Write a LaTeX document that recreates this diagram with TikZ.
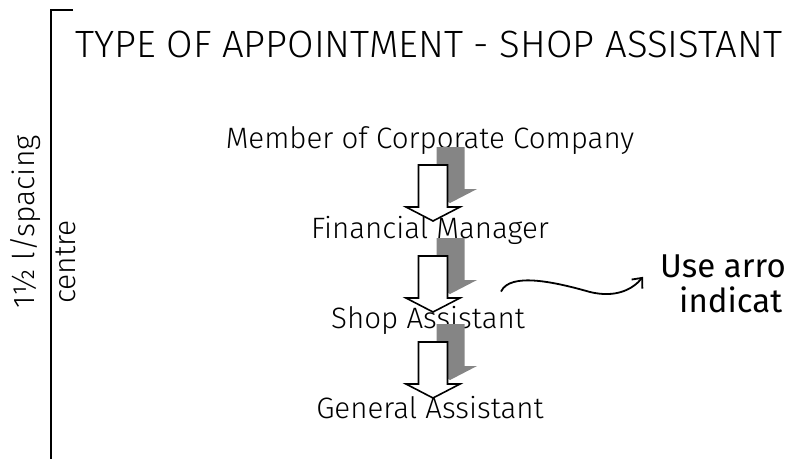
\documentclass[tikz,border=0pt]{standalone}
\usepackage{fontspec}
\setmainfont{Fira Sans Light}
\newfontfamily\notefont{Fira Sans}
\usetikzlibrary{calc,positioning,arrows.meta}

\tikzset{
  stage/.style={inner sep=0pt, font=\fontsize{29.5}{32}\selectfont},
  side/.style={inner sep=0pt, rotate=90, font=\fontsize{30}{32}\selectfont},
  note/.style={inner sep=0pt, font=\fontsize{33}{35}\notefont},
  downarrow/.pic={
    % shadow first, then the white arrow on top
    \fill[black!48] (3.5,-18) -- (31.5,-18) -- (31.5,24) -- (44,24) -- (17,38)
      -- (-10,24) -- (3.5,24) -- cycle;
    \draw[line width=1.6pt, fill=white, line join=miter]
      (-14.5,0) -- (14.5,0) -- (14.5,42) -- (27,42) -- (0,56) -- (-27,42)
      -- (-14.5,42) -- cycle;
  }
}

\begin{document}
\begin{tikzpicture}[x=1pt,y=-1pt]
  \useasboundingbox (0,0) rectangle (789,459);
  \clip (0,0) rectangle (789,459);

  % margin line
  \draw[line width=2pt] (73,10) -- (51,10) -- (51,459);
  \node[side] (spacing) at (26,222) {1½ l/spacing};
  \node[side] (centre) at (66,262) {centre};

  % heading
  \node[inner sep=0pt, anchor=base west, font=\fontsize{38}{40}\selectfont] (title)
    at (75,57) {\scalebox{1.01}[1]{TYPE OF APPOINTMENT - SHOP ASSISTANT}};

  % the ranks
  \node[stage, anchor=base] (member) at (430,148) {Member of Corporate Company};
  \node[stage, anchor=base] (finmgr) at (430,238) {Financial Manager};
  \node[stage, anchor=base] (shopasst) at (428,328) {Shop Assistant};
  \node[stage, anchor=base] (genasst) at (430,418) {General Assistant};

  % block arrows between the ranks
  \pic at ($(member.base)+(3,17)$) {downarrow};
  \pic at ($(finmgr.base)+(3,18)$) {downarrow};
  \pic at ($(shopasst.base)+(5,14)$) {downarrow};

  % side note, cut by the page edge
  \node[note, anchor=base west] (note1) at (660,277) {Use arro};
  \node[note, anchor=base west] (note2) at (679,312) {indicat};

  \coordinate (wavestart) at ($(shopasst.north east)+(-24,-14)$);
  \coordinate (waveend) at ($(note1.west)+(-17,11)$);
  \draw[line width=1.8pt, -{Straight Barb[length=8pt,width=14pt]}]
    (wavestart) .. controls (510,272) and (555,282) .. (590,292)
    .. controls (615,298) and (632,290) .. (waveend);
\end{tikzpicture}
\end{document}
